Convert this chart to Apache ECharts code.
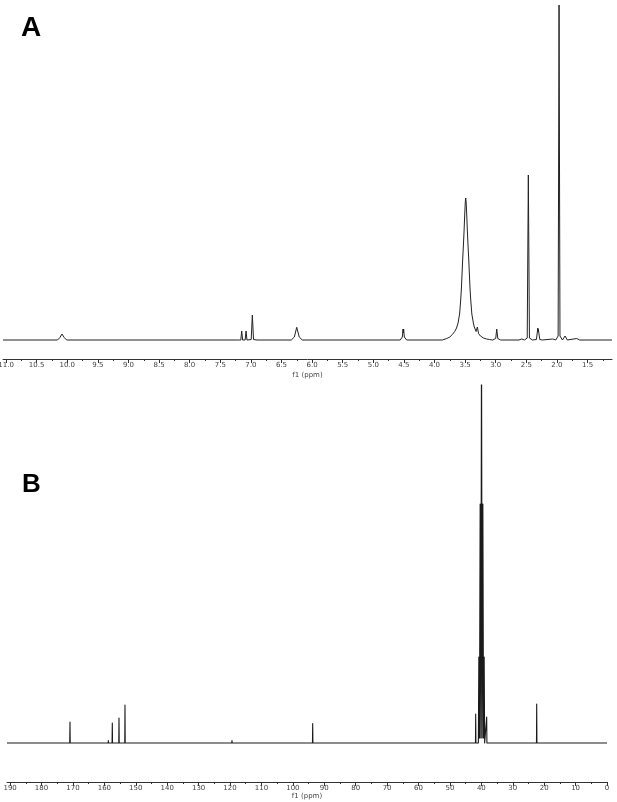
<!DOCTYPE html>
<html>
<head>
<meta charset="utf-8">
<script src="https://cdn.jsdelivr.net/npm/echarts@6/dist/echarts.min.js"></script>
<style>
html,body{margin:0;padding:0;background:#fff;}
#chart{width:617px;height:802px;}
</style>
</head>
<body>
<div id="chart"></div>
<script>
// ---- Panel A: 1H NMR, [ppm, intensity] points ----
const hAldehyde = [[11.05,0],[10.16,0],[10.12,2.5],[10.086,6],[10.05,2.5],[10.01,0]];
const hAromatic = [[7.20,0],[7.165,0],[7.150,9],[7.135,0],[7.094,0],[7.079,9],[7.064,0],[6.995,0.5],[6.976,25],[6.957,0.5],[6.90,0]];
const hVinyl = [[6.34,0],[6.29,3],[6.251,12.7],[6.21,3],[6.16,0]];
const hDoublet = [[4.56,0],[4.525,3],[4.514,11],[4.509,7],[4.504,11],[4.493,3],[4.455,0]];
const hWater = [[3.87,0],[3.80,1.5],[3.75,3],[3.708,5.5],[3.67,8.5],[3.64,12],[3.615,17],[3.59,26],[3.572,40],[3.56,52],[3.55,66],[3.54,80],[3.53,92],[3.517,109],[3.506,126],[3.497,138],[3.490,142],
  [3.483,138],[3.474,126],[3.463,109],[3.45,92],[3.44,80],[3.43,66],[3.42,52],[3.408,40],[3.39,26],[3.365,17],[3.35,13],[3.32,8.5],[3.300,13],[3.28,6.5],[3.25,4],[3.20,2],[3.15,1],[3.10,0.5],[3.05,0]];
const hMid = [[3.00,1.5],[2.983,11],[2.966,1.5],[2.92,0]];
const hAliphatic = [[2.62,0],[2.575,1],[2.53,0],[2.485,2],[2.467,165],[2.449,2],[2.40,0],[2.335,0.5],[2.312,12],[2.308,8],[2.304,11],[2.28,0.5],[2.24,0],[2.068,1],[2.02,0],[1.98,4],[1.965,335],[1.95,4],[1.91,0],[1.867,4],[1.83,0],[1.676,1.5],[1.63,0],[1.10,0]];

// ---- Panel B: 13C NMR, [ppm, intensity] points ----
const cCarbonyl = [[191,0],[171.03,0],[170.95,21],[170.87,0]];
const cAromatic = [[158.8,0],[158.75,2.5],[158.7,0],[157.55,0],[157.48,20],[157.41,0],[155.42,0],[155.35,25],[155.28,0],[153.51,0],[153.44,38],[153.37,0],[119.45,0],[119.38,2.5],[119.31,0],[93.76,0],[93.69,19.5],[93.62,0]];
const cSolvent = [[41.87,0],[41.8,29],[41.73,0],[40.95,0],[40.8,86],[40.6,5],[40.38,239],[40.16,5],[39.95,420],[39.74,5],[39.52,239],[39.3,5],[39.1,86],[38.95,0],[38.3,26],[38.23,0]];
const cAliphatic = [[22.45,0],[22.38,39],[22.31,0],[0,0]];

// ---- tick labels ----
const topMajorTicks = [11.0,10.5,10.0,9.5,9.0,8.5,8.0,7.5,7.0,6.5,6.0,5.5,5.0,4.5,4.0,3.5,3.0,2.5,2.0,1.5];
const topMinorTicks = [10.75,10.25,9.75,9.25,8.75,8.25,7.75,7.25,6.75,6.25,5.75,5.25,4.75,4.25,3.75,3.25,2.75,2.25,1.75,1.25];
const bottomMajorTicks = [190,180,170,160,150,140,130,120,110,100,90,80,70,60,50,40,30,20,10,0];
const bottomMinorTicks = [185,175,165,155,145,135,125,115,105,95,85,75,65,55,45,35,25,15,5];

const spectrumA = [].concat(hAldehyde, hAromatic, hVinyl, hDoublet, hWater, hMid, hAliphatic);
const spectrumB = [].concat(cCarbonyl, cAromatic, cSolvent, cAliphatic);

const axisColor = '#333';
const labelFont = {fontSize: 7, color: '#444', fontFamily: 'DejaVu Sans'};

function majorAxis(grid, min, max, ticks, decimals, gap) {
  return {
    type: 'value', gridIndex: grid, position: 'bottom', inverse: true, min: min, max: max,
    name: 'f1 (ppm)', nameLocation: 'middle', nameGap: gap,
    nameTextStyle: {fontSize: 7, color: '#444', fontFamily: 'DejaVu Sans'},
    axisLine: {show: true, onZero: false, lineStyle: {color: axisColor, width: 1}},
    axisTick: {show: true, length: 4, customValues: ticks, lineStyle: {color: axisColor}},
    axisLabel: {show: true, customValues: ticks, margin: 3, hideOverlap: false,
      formatter: function (v) { return Number(v).toFixed(decimals); },
      fontSize: labelFont.fontSize, color: labelFont.color, fontFamily: labelFont.fontFamily},
    splitLine: {show: false}
  };
}
function minorAxis(grid, min, max, ticks) {
  return {
    type: 'value', gridIndex: grid, position: 'bottom', inverse: true, min: min, max: max,
    axisLine: {show: false, onZero: false},
    axisTick: {show: true, length: 2, customValues: ticks, lineStyle: {color: axisColor}},
    axisLabel: {show: false},
    splitLine: {show: false}
  };
}

const chart = echarts.init(document.getElementById('chart'), null, {renderer: 'canvas'});
chart.setOption({
  animation: false,
  backgroundColor: '#fff',
  grid: [
    {left: 3, right: 5, top: 5, height: 354, containLabel: false, outerBoundsMode: 'none'},
    {left: 7, right: 10, top: 385, height: 397, containLabel: false, outerBoundsMode: 'none'}
  ],
  xAxis: [
    majorAxis(0, 1.1, 11.05, topMajorTicks, 1, 13),
    minorAxis(0, 1.1, 11.05, topMinorTicks),
    majorAxis(1, 0, 191, bottomMajorTicks, 0, 11),
    minorAxis(1, 0, 191, bottomMinorTicks)
  ],
  yAxis: [
    {type: 'value', gridIndex: 0, min: -19, max: 335, show: false},
    {type: 'value', gridIndex: 1, min: -39, max: 358, show: false}
  ],
  series: [
    {type: 'line', xAxisIndex: 0, yAxisIndex: 0, data: spectrumA, showSymbol: false, symbol: 'none',
     smooth: false, lineStyle: {color: '#222', width: 1, join: 'round'}, clip: true},
    {type: 'line', xAxisIndex: 2, yAxisIndex: 1, data: spectrumB, showSymbol: false, symbol: 'none',
     smooth: false, lineStyle: {color: '#1a1a1a', width: 1.1, join: 'round'}, clip: true}
  ],
  graphic: [
    {type: 'text', left: 21, top: 14, style: {text: 'A', font: 'bold 28px "Liberation Sans", Arial, sans-serif', fill: '#000'}},
    {type: 'text', left: 22, top: 472, style: {text: 'B', font: 'bold 26px "Liberation Sans", Arial, sans-serif', fill: '#000'}}
  ]
});
</script>
</body>
</html>
